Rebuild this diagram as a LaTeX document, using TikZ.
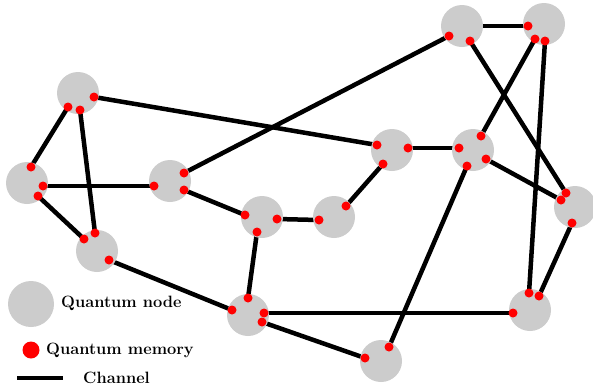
\documentclass[tikz,border=0pt]{standalone}
\begin{document}
\begin{tikzpicture}[x=1pt,y=-1pt,
  qnode/.style={circle,fill=qgray,draw=none,minimum size=42pt,inner sep=0pt},
  mem/.style={circle,fill=red,draw=none,minimum size=9pt,inner sep=0pt},
  chan/.style={line width=4.5pt,black},
  legtext/.style={anchor=west,inner sep=0pt,font=\fontsize{16.4}{19}\selectfont\bfseries}]
\definecolor{qgray}{RGB}{204,204,204}
\useasboundingbox (0,0) rectangle (593,389);
% memory positions
\coordinate (a1) at (94,97);  \coordinate (a2) at (68,107); \coordinate (a3) at (80,110);
\coordinate (b1) at (31,167); \coordinate (b2) at (43,186); \coordinate (b3) at (38,196);
\coordinate (c1) at (95,233); \coordinate (c2) at (84,239); \coordinate (c3) at (109,260);
\coordinate (d1) at (154,186); \coordinate (d2) at (184,173); \coordinate (d3) at (184,190);
\coordinate (e1) at (245,215); \coordinate (e2) at (277,219); \coordinate (e3) at (257,232);
\coordinate (f1) at (319,220); \coordinate (f2) at (346,206);
\coordinate (g1) at (377,145); \coordinate (g2) at (408,148); \coordinate (g3) at (383,164);
\coordinate (h1) at (481,136); \coordinate (h2) at (459,148); \coordinate (h3) at (467,166); \coordinate (h4) at (486,159);
\coordinate (i1) at (449,36); \coordinate (i2) at (470,41);
\coordinate (j1) at (528,26); \coordinate (j2) at (535,39); \coordinate (j3) at (545,41);
\coordinate (k1) at (566,193); \coordinate (k2) at (561,200); \coordinate (k3) at (572,223);
\coordinate (l1) at (513,313); \coordinate (l2) at (529,293); \coordinate (l3) at (539,296);
\coordinate (m1) at (248,298); \coordinate (m2) at (232,310); \coordinate (m3) at (264,313); \coordinate (m4) at (262,322);
\coordinate (n1) at (389,347); \coordinate (n2) at (365,358);
\coordinate (ic) at (462,26);
% channels
\draw[chan] (a2) -- (b1);
\draw[chan] (a3) -- (c1);
\draw[chan] (a1) -- (g1);
\draw[chan] (b2) -- (d1);
\draw[chan] (b3) -- (c2);
\draw[chan] (c3) -- (m2);
\draw[chan] (d2) -- (i1);
\draw[chan] (d3) -- (e1);
\draw[chan] (e2) -- (f1);
\draw[chan] (e3) -- (m1);
\draw[chan] (f2) -- (g3);
\draw[chan] (g2) -- (h2);
\draw[chan] (h1) -- (j2);
\draw[chan] (h4) -- (k2);
\draw[chan] (h3) -- (n1);
\draw[chan] (i2) -- (k1);
\draw[chan] (ic) -- (j1);
\draw[chan] (j3) -- (l2);
\draw[chan] (k3) -- (l3);
\draw[chan] (m3) -- (l1);
\draw[chan] (m4) -- (n2);
% quantum nodes
\node[qnode] (A) at (78,93) {};
\node[qnode] (B) at (27,183) {};
\node[qnode] (C) at (97,251) {};
\node[qnode] (D) at (170,181) {};
\node[qnode] (E) at (262,217) {};
\node[qnode] (F) at (334,217) {};
\node[qnode] (G) at (392,150) {};
\node[qnode] (H) at (473,150) {};
\node[qnode] (I) at (ic) {};
\node[qnode] (J) at (544,24) {};
\node[qnode] (K) at (575,207) {};
\node[qnode] (L) at (530,310) {};
\node[qnode] (M) at (248,315) {};
\node[qnode] (N) at (381,361) {};
% memories
\foreach \p in {a1,a2,a3,b1,b2,b3,c1,c2,c3,d1,d2,d3,e1,e2,e3,f1,f2,g1,g2,g3,h1,h2,h3,h4,i1,i2,j1,j2,j3,k1,k2,k3,l1,l2,l3,m1,m2,m3,m4,n1,n2}
  \node[mem] at (\p) {};
% legend
\node[qnode,minimum size=46pt] (legnode) at (31,304) {};
\node[legtext] (legnodetext) at (61,303) {Quantum node};
\node[mem,minimum size=17pt] (legmem) at (31,350) {};
\node[legtext] (legmemtext) at (46,350) {Quantum memory};
\coordinate (lc1) at (17,378);
\coordinate (lc2) at (63,378);
\draw[line width=4pt] (lc1) -- (lc2);
\node[legtext] (legchantext) at (83,378) {Channel};
\end{tikzpicture}
\end{document}
